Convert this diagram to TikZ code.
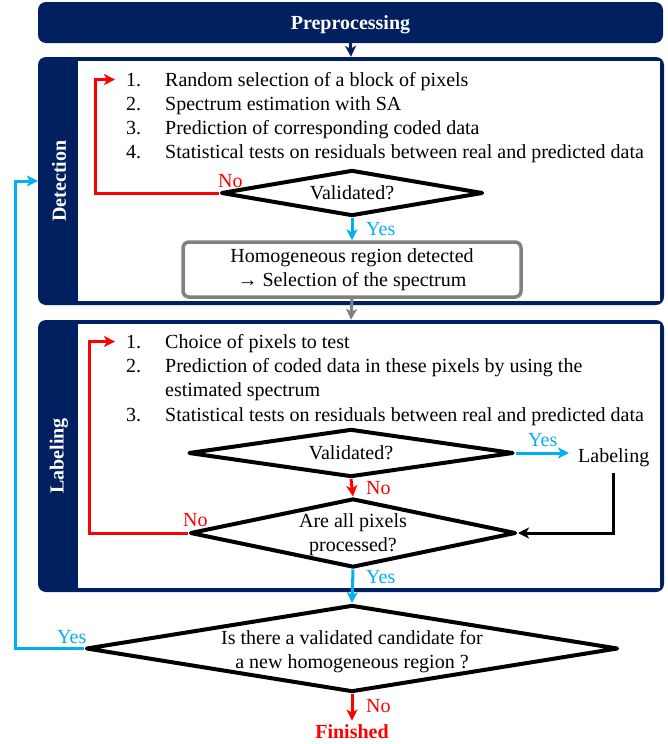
\documentclass[tikz,border=0pt]{standalone}
\usepackage{fontspec}
\setmainfont{Liberation Serif}
\usetikzlibrary{positioning,arrows.meta,shapes.geometric}
\definecolor{panelblue}{RGB}{0,32,96}
\definecolor{yescyan}{RGB}{0,176,240}
\definecolor{nored}{RGB}{255,0,0}
\definecolor{boxgray}{RGB}{128,128,128}

\begin{document}
\begin{tikzpicture}[x=1pt, y=-1pt,
    font=\fontsize{20}{24}\selectfont,
    panel/.style={fill=panelblue, rounded corners=8pt, inner sep=0pt},
    panelname/.style={rotate=90, text=white, font=\fontsize{20}{24}\selectfont\bfseries},
    decision/.style={diamond, draw=black, line width=4pt, line join=round, inner sep=0pt},
    item/.style={anchor=base west, inner sep=0pt},
    flowarrow/.style={-{Stealth[length=11pt,width=11pt,inset=3pt]}},
    yesline/.style={draw=yescyan, line width=3pt, flowarrow},
    noline/.style={draw=nored, line width=3pt, flowarrow},
    yeslbl/.style={text=yescyan, anchor=base west, inner sep=0pt},
    nolbl/.style={text=nored, anchor=base west, inner sep=0pt}]
  \useasboundingbox (0,0) rectangle (667,744);

  % top bar
  \node[panel, minimum width=625pt, minimum height=41pt, text=white, text height=18pt, text depth=4pt,
    font=\fontsize{20}{24}\selectfont\bfseries] (pre) at (350.5,22.5) {Preprocessing};

  % detection part
  \node[panel, minimum width=626pt, minimum height=248pt] (det) at (351,181) {};
  \fill[white] (78,61) rectangle (660,301);
  \node[panelname] (detname) at (59,181) {Detection};
  \node[item] (d1n) at (126,86) {1.};
  \node[item] (d1) at (165,86) {Random selection of a block of pixels};
  \node[item] (d2n) at (126,110) {2.};
  \node[item] (d2) at (165,110) {Spectrum estimation with SA};
  \node[item] (d3n) at (126,134) {3.};
  \node[item] (d3) at (165,134) {Prediction of corresponding coded data};
  \node[item] (d4n) at (126,158) {4.};
  \node[item] (d4) at (165,158) {Statistical tests on residuals between real and predicted data};
  \node[decision, minimum width=262pt, minimum height=46pt] (val1) at (352,193) {};
  \node (val1txt) at (val1) {Validated?};
  \node[draw=boxgray, line width=3.5pt, rounded corners=6pt, minimum width=338pt,
    minimum height=55pt, align=center] (homog) at (352,269.5)
    {Homogeneous region detected\\→ Selection of the spectrum};

  \draw[draw=panelblue, line width=3pt, flowarrow] (pre.south) -- (det.north);
  \draw[noline] (val1.west) -| ([xshift=-31pt]d1n.west) -- ([xshift=-11pt]d1n.west);
  \node[nolbl] (d1no) at (218,187) {No};
  \draw[yesline] (val1.south) -- (homog.north);
  \node[yeslbl] (d1yes) at (366,235) {Yes};

  % labeling part
  \node[panel, minimum width=626pt, minimum height=272pt] (lbl) at (351,456) {};
  \fill[white] (78,324) rectangle (660,588);
  \node[panelname] (lblname) at (59,456) {Labeling};
  \draw[draw=boxgray, line width=3pt, flowarrow] (homog.south) -- (lbl.north);
  \node[item] (l1n) at (126,348) {1.};
  \node[item] (l1) at (165,348) {Choice of pixels to test};
  \node[item] (l2n) at (126,372) {2.};
  \node[item] (l2) at (165,372) {Prediction of coded data in these pixels by using the};
  \node[item] (l2b) at (165,396) {estimated spectrum};
  \node[item] (l3n) at (126,421) {3.};
  \node[item] (l3) at (165,421) {Statistical tests on residuals between real and predicted data};
  \node[decision, minimum width=325pt, minimum height=48pt] (val2) at (351,453) {};
  \node (val2txt) at (val2) {Validated?};
  \node[item] (labout) at (578,462) {Labeling};
  \node[decision, minimum width=326pt, minimum height=69pt] (allpx) at (353,533) {};
  \node[align=center] (allpxtxt) at (353,535) {Are all pixels\\processed?};

  \draw[yesline, shorten >=9pt] (val2.east) -- (val2.east -| labout.west);
  \node[yeslbl] (l2yes) at (528,446) {Yes};
  \draw[black, line width=3pt, flowarrow] ([yshift=-6pt]labout.south) |- (allpx.east);
  \draw[noline] (val2.south) -- (allpx.north);
  \node[nolbl] (l2no) at (366,494) {No};
  \draw[noline] (allpx.west) -| ([xshift=-37pt]l1n.west) -- ([xshift=-11pt]l1n.west);
  \node[nolbl] (l3no) at (183,526) {No};

  % final test
  \node[decision, minimum width=532pt, minimum height=87pt] (cand) at (352,648.5) {};
  \node[align=center] (candtxt) at (352,652) {Is there a validated candidate for\\a new homogeneous region ?};
  \node[anchor=base, text=nored, font=\fontsize{20}{24}\selectfont\bfseries] (fin) at (352,738) {Finished};
  \coordinate (loopx) at (15,181);

  \draw[yesline] (allpx.south) -- (cand.north);
  \node[yeslbl] (l3yes) at (366,583) {Yes};
  \draw[yesline] (cand.west) -| (loopx) -- (det.west);
  \node[yeslbl] (candyes) at (57,643) {Yes};
  \draw[noline] (cand.south) -- (fin.north);
  \node[nolbl] (candno) at (366,712) {No};
\end{tikzpicture}
\end{document}
